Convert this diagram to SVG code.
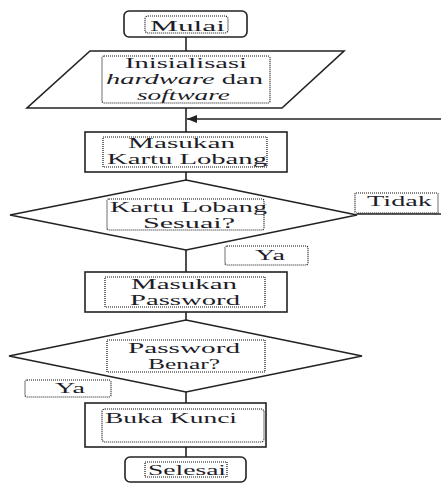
<svg xmlns="http://www.w3.org/2000/svg" width="441" height="484" viewBox="0 0 441 484">
<defs>
<style>
.shape{fill:#fff;stroke:#222;stroke-width:1.6}
.dot{fill:none;stroke:#111;stroke-width:1.2;stroke-dasharray:1 1}
.line{fill:none;stroke:#222;stroke-width:1.6}
.t{font-family:"Liberation Serif","Times New Roman",serif;font-size:14px;fill:#1e1e2a}
.i{font-style:italic}
</style>
<marker id="arr" markerWidth="10" markerHeight="8" refX="10" refY="4" orient="auto" markerUnits="userSpaceOnUse">
<path d="M0,0 L10,4 L0,8 Z" fill="#222"/>
</marker>
</defs>
<rect width="441" height="484" fill="#fff"/>
<g id="connectors">
<line class="line" x1="186" y1="37" x2="186" y2="51"/>
<line class="line" x1="186" y1="108" x2="186" y2="132"/>
<line class="line" x1="186" y1="172" x2="186" y2="180"/>
<line class="line" x1="186" y1="250" x2="186" y2="272"/>
<line class="line" x1="186" y1="312" x2="186" y2="320"/>
<line class="line" x1="186" y1="392" x2="186" y2="403"/>
<line class="line" x1="186" y1="447" x2="186" y2="457"/>
<line class="line" x1="357" y1="214" x2="441" y2="214"/>
<line class="line" x1="441" y1="119" x2="187" y2="119" marker-end="url(#arr)"/>
</g>
<g id="mulai">
<rect class="shape" x="124" y="11" width="123" height="26" rx="5"/>
<rect class="dot" x="145" y="16" width="83" height="17" rx="3"/>
<text class="t" x="150" y="31" textLength="75" lengthAdjust="spacingAndGlyphs">Mulai</text>
</g>
<g id="inisialisasi">
<polygon class="shape" points="90,51 344,51 282,108 27,108"/>
<rect class="dot" x="102" y="56" width="168" height="47" rx="2"/>
<text class="t" x="125" y="68" textLength="122" lengthAdjust="spacingAndGlyphs">Inisialisasi</text>
<text class="t" x="106" y="84" textLength="157" lengthAdjust="spacingAndGlyphs"><tspan class="i">hardware</tspan> dan</text>
<text class="t i" x="137" y="100" textLength="93" lengthAdjust="spacingAndGlyphs">software</text>
</g>
<g id="masukan-kartu">
<rect class="shape" x="85" y="132" width="202" height="40"/>
<rect class="dot" x="103" y="137" width="164" height="30"/>
<text class="t" x="128" y="148" textLength="107" lengthAdjust="spacingAndGlyphs">Masukan</text>
<text class="t" x="107" y="164" textLength="160" lengthAdjust="spacingAndGlyphs">Kartu Lobang</text>
</g>
<g id="kartu-sesuai">
<polygon class="shape" points="186,180 357,215 186,250 10,215"/>
<rect class="dot" x="107" y="199" width="157" height="31" rx="2"/>
<text class="t" x="110" y="212" textLength="157" lengthAdjust="spacingAndGlyphs">Kartu Lobang</text>
<text class="t" x="143" y="228" textLength="92" lengthAdjust="spacingAndGlyphs">Sesuai?</text>
</g>
<g id="label-tidak">
<rect class="dot" x="355" y="193" width="83" height="20" rx="1"/>
<text class="t" x="367" y="206" textLength="65" lengthAdjust="spacingAndGlyphs">Tidak</text>
</g>
<g id="label-ya-1">
<rect class="dot" x="225" y="246" width="83" height="19" rx="2"/>
<text class="t" x="255" y="260" textLength="30" lengthAdjust="spacingAndGlyphs">Ya</text>
</g>
<g id="masukan-password">
<rect class="shape" x="85" y="272" width="202" height="40"/>
<rect class="dot" x="105" y="277" width="160" height="30"/>
<text class="t" x="131" y="289" textLength="106" lengthAdjust="spacingAndGlyphs">Masukan</text>
<text class="t" x="130" y="305" textLength="110" lengthAdjust="spacingAndGlyphs">Password</text>
</g>
<g id="password-benar">
<polygon class="shape" points="186,320 362,356 186,392 9,356"/>
<rect class="dot" x="107" y="340" width="158" height="32"/>
<text class="t" x="128" y="353" textLength="112" lengthAdjust="spacingAndGlyphs">Password</text>
<text class="t" x="148" y="369" textLength="72" lengthAdjust="spacingAndGlyphs">Benar?</text>
</g>
<g id="label-ya-2">
<rect class="dot" x="25" y="380" width="86" height="17" rx="2"/>
<text class="t" x="55" y="393" textLength="30" lengthAdjust="spacingAndGlyphs">Ya</text>
</g>
<g id="buka-kunci">
<rect class="shape" x="85" y="403" width="181" height="44"/>
<rect class="dot" x="102" y="409" width="162" height="33" rx="3"/>
<text class="t" x="105" y="423" textLength="132" lengthAdjust="spacingAndGlyphs">Buka Kunci</text>
</g>
<g id="selesai">
<rect class="shape" x="125" y="457" width="121" height="25" rx="5"/>
<rect class="dot" x="145" y="462" width="82" height="15"/>
<text class="t" x="148" y="475" textLength="78" lengthAdjust="spacingAndGlyphs">Selesai</text>
</g>
</svg>
